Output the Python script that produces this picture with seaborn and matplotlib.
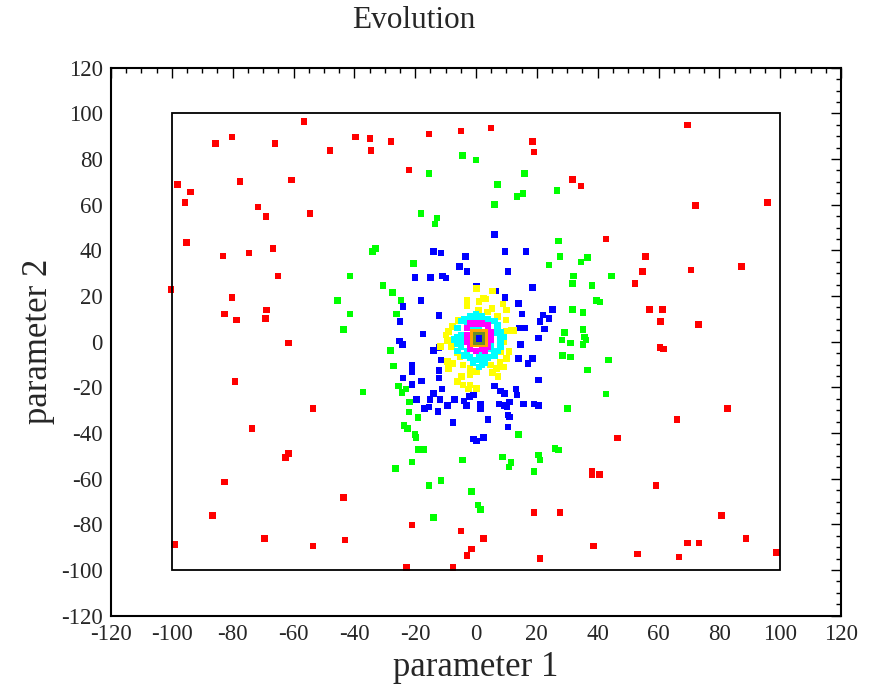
import numpy as np
import pandas as pd
import matplotlib
matplotlib.use("Agg")
import matplotlib.pyplot as plt
import seaborn as sns
from matplotlib.ticker import MultipleLocator
from matplotlib.patches import Rectangle

# ---------------- data ----------------
red_x = [-56.6, -80.2, -85.6, -66.1, -39.6, -34.9, -48.0, -34.5, -98.2, -77.6, -60.6, -93.8, -95.7, -71.6, -69.1, -54.6,
         -95.2, -83.1, -74.7, -66.7, -28.0, -15.5, -4.9, 5.0, 18.5, 19.1, -22.0, 31.7, 69.6, 34.6, 72.1, 95.8, 42.7, 55.7,
         54.7, 70.7, 87.3, 52.2, 57.1, 61.3, 60.6, 73.1, 60.5, 61.7, 82.7, 66.1, -65.1, -100.2, -80.2, -82.7, -78.7, -68.8,
         -69.2, -61.6, -79.2, -53.6, -73.6, -61.6, -62.6, -82.7, -43.6, -86.7, -69.6, -99.2, -53.6, -43.0, -21.1, -4.9,
         2.5, -1.4, -3.0, 19.1, 27.6, 21.1, -22.9, -7.5, 46.6, 38.1, 38.1, 40.6, 59.2, 80.7, 88.7, 69.6, 73.3, 38.6, 53.1,
         66.7, 98.8]
red_y = [96.4, 89.7, 86.9, 86.9, 89.7, 89.1, 83.7, 83.7, 68.9, 70.2, 70.8, 65.6, 60.9, 58.9, 54.9, 56.2,
         43.5, 37.5, 38.9, 40.9, 87.6, 91.0, 92.3, 93.6, 87.6, 83.0, 75.1, 71.0, 94.9, 68.2, 59.6, 60.9, 44.9, 37.4,
         30.8, 31.5, 32.9, 25.6, 14.2, 14.2, 8.8, 7.5, -2.5, -3.3, -29.3, -34.0, 28.8, 22.8, 19.4, 12.1, 9.4, 13.9,
         10.1, -0.6, -17.4, -29.3, -38.1, -48.9, -50.8, -61.5, -68.2, -76.2, -86.1, -88.9, -89.5, -86.9, -80.3, -82.9,
         -86.1, -90.8, -93.6, -74.7, -74.7, -94.9, -98.8, -98.8, -42.2, -56.9, -58.4, -58.1, -62.9, -76.2, -86.1, -88.2,
         -88.2, -89.5, -93.0, -94.3, -92.3]

green_x = [-4.5, 0.0, -15.5, 16.0, 7.0, 13.5, 15.5, 26.6, 6.0, -18.1, -12.9, -13.5, -33.0, -34.1, -20.5, 27.1, 27.6, 24.0,
           34.6, 36.6, 32.1, 44.6, 31.7, 38.2, 39.6, 40.7, 31.7, 35.1, 29.1, 35.1, 35.6, 36.2, 28.2, 31.0, 35.1, 28.5,
           31.0, 43.6, 36.6, 42.7, 30.0, -41.5, -45.6, -41.5, -43.6, -37.1, -30.6, -27.5, -24.6, -26.1, -28.1, -27.1,
           -25.5, -24.4, -23.0, -21.9, -22.0, -19.0, -23.6, -22.5, -20.1, -19.8, -19.0, -17.3, -21.0, -4.4, 8.7, 11.5,
           10.9, 14.0, 20.5, 21.1, 26.0, 27.1, -26.5, 19.1, -15.5, -11.5, -1.4, 0.6, 1.5, -14.0]
green_y = [81.6, 79.6, 73.6, 73.6, 68.9, 63.5, 64.8, 66.3, 60.2, 56.2, 54.2, 51.6, 40.9, 39.4, 34.2, 44.1, 37.4, 33.5,
           34.8, 36.8, 28.8, 28.8, 25.4, 24.7, 18.1, 17.4, 14.2, 12.9, 4.1, 5.4, 2.1, 0.7, 0.7, -0.6, -1.3, -6.0,
           -6.7, -8.0, -12.5, -22.8, -29.3, 28.8, 18.1, 12.1, 5.4, -22.0, 24.7, 21.5, 18.1, 12.1, -3.9, -10.6,
           -19.3, -22.2, -20.7, -26.5, -30.8, -33.3, -36.6, -38.1, -40.6, -42.0, -47.1, -47.1, -52.7, -51.9, -50.6, -52.8,
           -54.8, -40.7, -49.6, -51.8, -46.7, -47.4, -55.5, -56.8, -62.9, -60.9, -65.5, -71.5, -73.6, -76.9]

blue_x = [6.0, -14.0, -11.5, -3.5, 9.5, 16.5, -5.5, -3.0, 10.6, -20.0, -15.0, -11.0, -9.9, 18.5, 0.1, 6.4, 9.6, -18.1,
          -24.0, 14.0, 25.1, 22.0, 24.0, 15.1, -12.1, -25.0, 21.1, 22.6, 14.2, 15.9, -17.5, 20.6, -25.1, -24.1, 14.6,
          -12.2, -14.0, -11.5, 14.0, 18.6, 17.1, -21.1, -21.1, -12.1, -24.0, -12.1, -18.0, -21.1, 20.6, -11.1, 6.0, 8.0,
          9.4, 13.1, 13.5, -14.0, -2.1, -0.9, -19.5, -15.1, -11.9, -7.0, -3.9, -3.1, -17.0, -15.4, -12.5, -9.4, 1.4,
          1.5, 7.5, 9.4, 11.0, 10.2, 15.6, 19.1, 20.6, 10.6, 11.0, 3.9, -7.5, 10.5, -0.9, 0.1, 2.5]
blue_y = [46.9, 39.4, 38.9, 37.4, 39.4, 39.4, 32.9, 30.8, 30.8, 28.2, 28.2, 28.8, 28.0, 23.8, 24.4, 22.3, 19.4, 18.1,
          15.5, 16.8, 14.2, 11.6, 10.1, 12.1, 11.4, 8.8, 8.8, 5.6, 6.1, 6.1, 3.4, 1.6, 0.3, -1.3, -1.3,
          -2.5, -3.9, -8.0, -7.3, -7.3, -9.5, -10.5, -13.3, -12.7, -15.9, -16.0, -17.3, -18.7, -16.8, -20.7, -19.4, -21.5,
          -22.6, -20.7, -23.3, -22.6, -24.1, -23.3, -25.4, -25.4, -25.4, -25.4, -26.0, -28.0, -29.3, -28.7, -30.5, -28.0, -27.3,
          -29.5, -27.3, -28.0, -26.5, -28.6, -27.3, -27.3, -28.0, -32.0, -33.0, -34.0, -35.3, -37.4, -42.6, -43.4, -42.0]

yellow_x = [0.1, -2.9, -2.9, 1.0, 3.1, 5.5, 5.2, 8.8, 10.1, 0.8, 7.0, -5.7, 9.8, 11.7, 10.1, -9.1, -9.9, -9.4, 9.0,
            8.1, 10.9, -8.0, -6.1, -5.3, -9.4, -7.5, -9.1, -4.2, -2.0, -2.0, -4.7, -6.0, -4.2, -2.0, -2.5, 0.2, 0.2,
            4.8, 6.8, 9.0, 5.5, 7.3, 10.1, 7.9, 2.4, 3.8, 12.3, -7.7, -11.6]
yellow_y = [23.4, 18.3, 15.6, 17.5, 18.7, 22.2, 14.6, 16.5, 13.9, 13.9, 11.0, 9.2, 9.5, 5.1, 4.7, 4.4, 2.9, 0.5, 0.0,
            -4.4, -4.4, -2.2, -4.8, -6.6, -8.7, -9.5, -11.7, -10.2, -11.7, -14.6, -15.3, -17.5, -19.0, -19.0, -20.7, -20.4, -13.1,
            -10.2, -11.7, -11.0, -13.6, -15.3, -7.3, -8.8, 19.0, 13.1, 4.8, 6.6, -2.2]

cyan_x = [-6, -5, -4, -2, 0, 2, 4, 6, 7, 8, 8, 8, 7, 6, 4, 2, 0, -2, -4, -6, -6, -6, -5, -3, 5, -1, 1, 3, -5, 6,
          -3, 3, -5, 5, 1, -1, 1, 0, 2, -7, 9]
cyan_y = [6, 9, 10, 11, 10, 11, 10, 9, 7, 4, 1, -2, -4, -6, -7, -8, -8, -7, -6, -4, -1, 2, 3, -4, -3, 7, -6, -6, 0, 4,
          8, -9, -2, -1, -11, -9, 5, 12, -10, 1, 2]

magenta_x = [-3, -2, 0, 2, 4, 5, 5, 4, 2, 0, -2, -3, -3, 3]
magenta_y = [6, 8, 8, 8, 7, 4, 1, -2, -3, -4, -3, 0, 3, -4]

orange_x = [-1, 1, 3, 3, 3, 1, -1, -1]
orange_y = [4, 4, 4, 1.5, -1, -1, -1, 1.5]

dgreen_x = [0, 2, 2, 0]
dgreen_y = [3, 3, 0, 0]

core_x = [1]
core_y = [1.5]

box_x = [-100, 100]
box_y = [-100, 100]

ticks = list(range(-120, 121, 20))

sets = [("red", red_x, red_y, "#ff0000"),
        ("green", green_x, green_y, "#00ff00"),
        ("blue", blue_x, blue_y, "#0000ff"),
        ("yellow", yellow_x, yellow_y, "#ffff00"),
        ("cyan", cyan_x, cyan_y, "#00ffff"),
        ("magenta", magenta_x, magenta_y, "#ff00ff"),
        ("orange", orange_x, orange_y, "#ffa500"),
        ("dgreen", dgreen_x, dgreen_y, "#6b8e23"),
        ("core", core_x, core_y, "#0000ff")]

frames = []
palette = {}
for name, xs, ys, col in sets:
    frames.append(pd.DataFrame({"p1": xs, "p2": ys, "gen": name}))
    palette[name] = col
df = pd.concat(frames, ignore_index=True)

# ---------------- figure ----------------
sns.set_theme(style="white")
plt.rcParams['font.family'] = ['Liberation Serif', 'DejaVu Serif']
plt.rcParams['axes.unicode_minus'] = False

W, H = 871, 684
fig = plt.figure(figsize=(W / 100, H / 100), dpi=100)
ax = fig.add_axes([111 / W, 1 - 615.7 / H, 730 / W, 548 / H])

sns.scatterplot(data=df, x="p1", y="p2", hue="gen", palette=palette, marker="s",
                s=22, linewidth=0, legend=False, ax=ax, zorder=2)

ax.add_patch(Rectangle((box_x[0], box_y[0]), box_x[1] - box_x[0], box_y[1] - box_y[0],
                       fill=False, ec="black", lw=1.3, zorder=3))

ax.set_xlim(-120, 120)
ax.set_ylim(-120, 120)
ax.set_xticks(ticks)
ax.set_yticks(ticks)
ax.set_xticklabels([str(t) for t in ticks])
ax.set_yticklabels([str(t) for t in ticks])
ax.xaxis.set_minor_locator(MultipleLocator(5))
ax.yaxis.set_minor_locator(MultipleLocator(5))
ax.tick_params(which="both", direction="in", top=True, right=True, color="black", width=1.0)
ax.tick_params(which="major", length=7.5, labelsize=16.5, pad=6)
ax.tick_params(which="minor", length=3.8)
for sp in ax.spines.values():
    sp.set_linewidth(1.5)
    sp.set_color("black")

ax.set_xlabel("parameter 1", fontsize=25, labelpad=4)
ax.set_ylabel("parameter 2", fontsize=25, labelpad=4)
fig.text(0.475, 1 - 21 / H, "Evolution", ha="center", va="center", fontsize=22.5)

fig.savefig("out.png", dpi=100)
